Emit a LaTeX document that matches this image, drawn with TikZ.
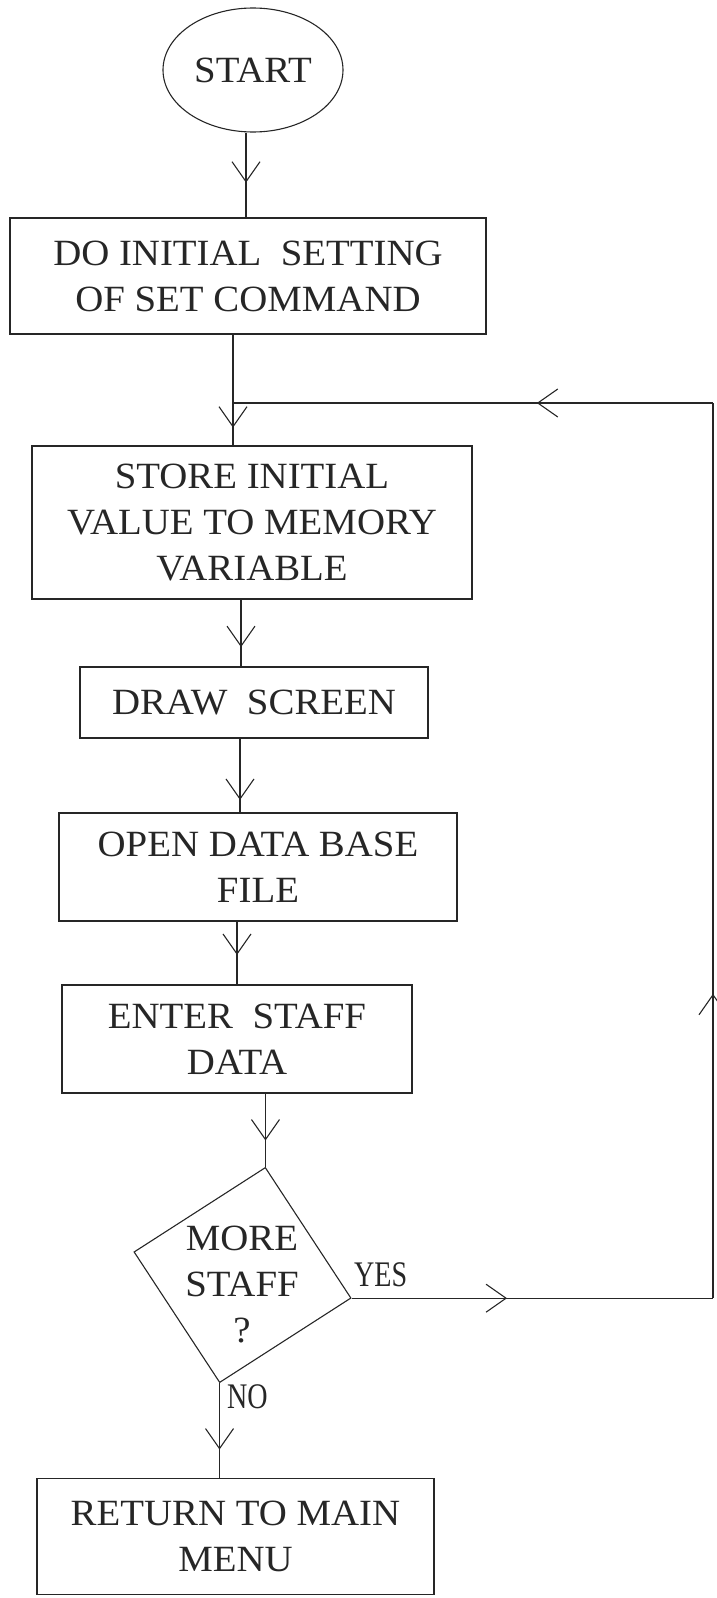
\documentclass[tikz,border=0pt]{standalone}
\usepackage{fontspec}
\setmainfont{Liberation Serif}[FakeStretch=1.05]
\newfontfamily\narrowfont{Liberation Serif}[FakeStretch=0.78]
\usetikzlibrary{shapes.geometric,arrows.meta,decorations.markings}

\tikzset{
  flowbox/.style={draw, rectangle, inner sep=0pt, align=center},
  flow/.style={postaction={decorate,decoration={markings,
      mark=at position #1 with {\arrow{Straight Barb[length=20pt,width=28pt]}}}}},
  branch/.style={font={\narrowfont\fontsize{36}{44}\selectfont}, inner sep=0pt},
}

\begin{document}
\begin{tikzpicture}[x=1pt,y=-1pt,line width=1.1pt,color=black!85,
    font=\fontsize{37}{46}\selectfont]
  \useasboundingbox (0,0) rectangle (717,1598);

  % Steps of the flow, top to bottom
  \node[ellipse, draw, minimum width=180pt, minimum height=124pt, inner sep=0pt] (start) at (253,70) {START};
  \node[flowbox, minimum width=476pt, minimum height=116pt] (setup) at (248,276) {DO INITIAL\ \ SETTING\\OF SET COMMAND};
  \node[flowbox, minimum width=440pt, minimum height=153pt] (store) at (252,522.5) {STORE INITIAL\\VALUE TO MEMORY\\VARIABLE};
  \node[flowbox, minimum width=348pt, minimum height=71pt] (screen) at (254,702.5) {DRAW\ \ SCREEN};
  \node[flowbox, minimum width=398pt, minimum height=108pt] (openfile) at (258,867) {OPEN DATA BASE\\FILE};
  \node[flowbox, minimum width=350pt, minimum height=108pt] (enter) at (237,1039) {ENTER\ \ STAFF\\DATA};

  % Decision (a slightly tilted diamond, text kept upright)
  \node[diamond, draw, rotate=-12, minimum width=222pt, minimum height=220pt, inner sep=0pt] (more) at (242.5,1275) {};
  \node[align=center] (moretext) at (242,1284) {MORE\\STAFF\\?};

  \node[flowbox, minimum width=397pt, minimum height=116pt] (back) at (235.5,1536.5) {RETURN TO MAIN\\MENU};

  % Branch labels
  \node[branch, anchor=south west] (yes) at ([xshift=2pt,yshift=11pt]more.east) {YES};
  \node[branch, anchor=north west] (no) at ([xshift=7pt,yshift=-1pt]more.south) {NO};

  % Straight run down the page
  \coordinate (join) at (233,403);
  \coordinate (rim) at (713,403);
  \draw[flow=0.59] ([xshift=-7pt]start.south) -- ([xshift=-7pt]start.south |- setup.north);
  \draw (setup.south -| join) -- (join);
  \draw[flow=0.58] (join) -- (join |- store.north);
  \draw[flow=0.71] ([xshift=-11pt]store.south) -- ([xshift=-11pt]store.south |- screen.north);
  \draw[flow=0.83] ([xshift=-14pt]screen.south) -- ([xshift=-14pt]screen.south |- openfile.north);
  \draw[flow=0.53] ([xshift=-21pt]openfile.south) -- ([xshift=-21pt]openfile.south |- enter.north);
  \draw[flow=0.64] (enter.south -| more.north) -- (more.north);
  \draw[flow=0.70] (more.south) -- (more.south |- back.north);

  % Loop back for the next staff member
  \draw[flow=0.43] (more.east) -- (more.east -| rim);
  \draw[flow=0.34] (more.east -| rim) -- (rim);
  \draw[flow=0.367] (rim) -- (join);
\end{tikzpicture}
\end{document}
